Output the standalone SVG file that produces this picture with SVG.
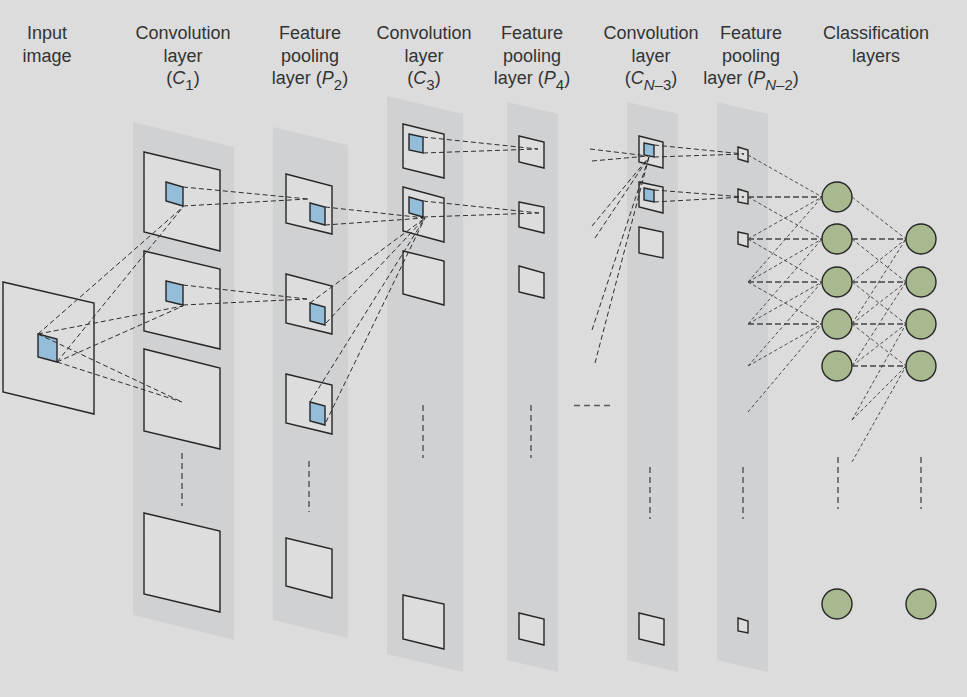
<svg xmlns="http://www.w3.org/2000/svg" width="967" height="697" viewBox="0 0 967 697">
<style>
.lbl{font-family:"Liberation Sans",Arial,Helvetica,sans-serif;font-size:18px;fill:#333333;text-anchor:middle}
.sub{font-size:15px}
.it{font-style:italic}
.band{fill:#d0d1d3}
.map{fill:#dddddd;stroke:#262626;stroke-width:1.4}
.patch{fill:#93bdd9;stroke:#262626;stroke-width:1.4}
.neuron{fill:#a9b98f;stroke:#262626;stroke-width:1.4}
.c{fill:none;stroke:#2e2e2e;stroke-width:1;stroke-dasharray:5 3}
.t{fill:none;stroke:#333333;stroke-width:0.85;stroke-dasharray:3.5 2.5}
.h{fill:none;stroke:#444444;stroke-width:1.4;stroke-dasharray:6 3}
.dots{fill:none;stroke:#5a5a5a;stroke-width:1.5;stroke-dasharray:6 4}
</style>
<rect x="0" y="0" width="967" height="697" fill="#dcdcdc"/>

<g id="bands">
<polygon class="band" points="133,122 234,147 234,640 133,615"/>
<polygon class="band" points="273,127 348,145 348,638 273,620"/>
<polygon class="band" points="387,96 463,114 463,672 387,654"/>
<polygon class="band" points="507,102 558,114 558,672 507,660"/>
<polygon class="band" points="627,102 678,114 678,672 627,660"/>
<polygon class="band" points="717,102 768,114 768,672 717,660"/>
</g>

<g id="labels">
<text class="lbl" x="47" y="39">Input</text>
<text class="lbl" x="47" y="62">image</text>
<text class="lbl" x="183" y="39">Convolution</text>
<text class="lbl" x="183" y="62">layer</text>
<text class="lbl" x="183" y="84">(<tspan class="it">C</tspan><tspan class="sub" dy="6">1</tspan><tspan dy="-6">)</tspan></text>
<text class="lbl" x="310" y="39">Feature</text>
<text class="lbl" x="310" y="62">pooling</text>
<text class="lbl" x="310" y="84">layer (<tspan class="it">P</tspan><tspan class="sub" dy="6">2</tspan><tspan dy="-6">)</tspan></text>
<text class="lbl" x="424" y="39">Convolution</text>
<text class="lbl" x="424" y="62">layer</text>
<text class="lbl" x="424" y="84">(<tspan class="it">C</tspan><tspan class="sub" dy="6">3</tspan><tspan dy="-6">)</tspan></text>
<text class="lbl" x="532" y="39">Feature</text>
<text class="lbl" x="532" y="62">pooling</text>
<text class="lbl" x="532" y="84">layer (<tspan class="it">P</tspan><tspan class="sub" dy="6">4</tspan><tspan dy="-6">)</tspan></text>
<text class="lbl" x="651" y="39">Convolution</text>
<text class="lbl" x="651" y="62">layer</text>
<text class="lbl" x="651" y="84">(<tspan class="it">C</tspan><tspan class="sub" dy="6"><tspan class="it">N</tspan>–3</tspan><tspan dy="-6">)</tspan></text>
<text class="lbl" x="751" y="39">Feature</text>
<text class="lbl" x="751" y="62">pooling</text>
<text class="lbl" x="751" y="84">layer (<tspan class="it">P</tspan><tspan class="sub" dy="6"><tspan class="it">N</tspan>–2</tspan><tspan dy="-6">)</tspan></text>
<text class="lbl" x="876" y="39">Classification</text>
<text class="lbl" x="876" y="62">layers</text>
</g>

<g id="input-image">
<polygon class="map" points="3,282 94,303 94,414 3,392"/>
<polygon class="patch" points="38,334 57,339 57,362 38,357"/>
</g>

<g id="c1-map1"><polygon class="map" points="144,152 220,170 220,251 144,232"/><polygon class="patch" points="166,182 183,187 183,206 166,201"/></g>
<g id="c1-map2"><polygon class="map" points="144,251 220,269 220,349 144,331"/><polygon class="patch" points="166,281 183,285 183,305 166,301"/></g>
<g id="c1-map3"><polygon class="map" points="144,349 220,368 220,449 144,431"/></g>
<g id="c1-map4"><polygon class="map" points="144,513 220,531 220,612 144,594"/></g>

<g id="p2-map1"><polygon class="map" points="286,174 332,186 332,234 286,223"/><polygon class="patch" points="310,203 325,207 325,225 310,221"/></g>
<g id="p2-map2"><polygon class="map" points="286,274 332,286 332,334 286,323"/><polygon class="patch" points="310,303 325,307 325,325 310,321"/></g>
<g id="p2-map3"><polygon class="map" points="286,374 332,385 332,434 286,423"/><polygon class="patch" points="310,402 325,406 325,425 310,421"/></g>
<g id="p2-map4"><polygon class="map" points="286,538 332,549 332,598 286,586"/></g>

<g id="c3-map1"><polygon class="map" points="403,124 444,134 444,178 403,168"/><polygon class="patch" points="409,134 423,137 423,153 409,150"/></g>
<g id="c3-map2"><polygon class="map" points="403,187 444,198 444,242 403,231"/><polygon class="patch" points="409,197 423,201 423,217 409,213"/></g>
<g id="c3-map3"><polygon class="map" points="403,251 444,261 444,305 403,294"/></g>
<g id="c3-map4"><polygon class="map" points="403,595 444,604 444,649 403,639"/></g>

<g id="p4-map1"><polygon class="map" points="519,136 544,142 544,168 519,162"/></g>
<g id="p4-map2"><polygon class="map" points="519,202 544,207 544,233 519,227"/></g>
<g id="p4-map3"><polygon class="map" points="519,266 544,273 544,298 519,292"/></g>
<g id="p4-map4"><polygon class="map" points="519,613 544,619 544,645 519,639"/></g>

<g id="cn3-map1"><polygon class="map" points="639,136 663,142 663,168 639,162"/><polygon class="patch" points="644,143 654,145 654,157 644,155"/></g>
<g id="cn3-map2"><polygon class="map" points="639,182 663,187 663,213 639,207"/><polygon class="patch" points="644,188 654,190 654,202 644,200"/></g>
<g id="cn3-map3"><polygon class="map" points="639,227 663,232 663,258 639,253"/></g>
<g id="cn3-map4"><polygon class="map" points="639,613 664,619 664,645 639,639"/></g>

<g id="pn2-map1"><polygon class="map" points="738,147 748,150 748,162 738,159"/></g>
<g id="pn2-map2"><polygon class="map" points="738,189 748,192 748,204 738,202"/></g>
<g id="pn2-map3"><polygon class="map" points="738,232 748,234 748,247 738,244"/></g>
<g id="pn2-map4"><polygon class="map" points="738,618 748,621 748,633 738,631"/></g>

<g id="fc1-n1"><circle class="neuron" cx="837" cy="197" r="15"/></g>
<g id="fc1-n2"><circle class="neuron" cx="837" cy="239" r="15"/></g>
<g id="fc1-n3"><circle class="neuron" cx="837" cy="282" r="15"/></g>
<g id="fc1-n4"><circle class="neuron" cx="837" cy="324" r="15"/></g>
<g id="fc1-n5"><circle class="neuron" cx="837" cy="366" r="15"/></g>
<g id="fc1-nlast"><circle class="neuron" cx="837" cy="604" r="15"/></g>
<g id="fc2-n1"><circle class="neuron" cx="921" cy="239" r="15"/></g>
<g id="fc2-n2"><circle class="neuron" cx="921" cy="282" r="15"/></g>
<g id="fc2-n3"><circle class="neuron" cx="921" cy="324" r="15"/></g>
<g id="fc2-n4"><circle class="neuron" cx="921" cy="366" r="15"/></g>
<g id="fc2-nlast"><circle class="neuron" cx="921" cy="604" r="15"/></g>

<g id="ellipses">
<line class="dots" x1="182" y1="453" x2="182" y2="506"/>
<line class="dots" x1="309" y1="461" x2="309" y2="512"/>
<line class="dots" x1="423" y1="405" x2="423" y2="458"/>
<line class="dots" x1="531" y1="405" x2="531" y2="458"/>
<line class="dots" x1="574" y1="405.5" x2="610" y2="405.5"/>
<line class="dots" x1="650" y1="467" x2="650" y2="519"/>
<line class="dots" x1="743" y1="467" x2="743" y2="519"/>
<line class="dots" x1="838" y1="457" x2="838" y2="509"/>
<line class="dots" x1="921" y1="457" x2="921" y2="509"/>
</g>

<g id="connectors">
<path class="c" d="M38,334 L183,207 M57,362 L183,207 M38,334 L183,306 M57,362 L183,306 M38,334 L182,402 M57,362 L182,402"/>
<path class="c" d="M183,187 L308,199 M183,206 L308,199 M183,285 L307,299 M183,305 L307,299"/>
<path class="c" d="M325,207 L425,218 M325,225 L425,218 M310,303 L425,218 M326,323 L425,218 M310,402 L425,218 M326,422 L425,218"/>
<path class="c" d="M423,137 L538,149 M423,153 L538,149 M423,201 L539,213 M423,217 L539,213"/>
<path class="c" d="M590,149 L648,156 M592,161 L648,156 M592,226 L649,157 M595,238 L649,157 M592,330 L649,157 M595,363 L649,157"/>
<path class="c" d="M654,145 L744,154 M654,157 L744,154 M654,190 L744,197 M654,202 L744,197"/>
<path class="t" d="M748,155 L822,197 M748,197 L822,239 M748,239 L822,197 M748,239 L822,282 M748,282 L822,197 M748,282 L822,239 M748,282 L822,324 M748,324 L822,239 M748,324 L822,282 M748,366 L822,282 M748,366 L822,324 M748,412 L822,324"/>
<path class="h" d="M748,197 L822,197 M748,239 L822,239 M748,282 L822,282 M748,324 L822,324"/>
<path class="t" d="M852,197 L906,239 M852,239 L906,282 M852,282 L906,239 M852,282 L906,324 M852,324 L906,239 M852,324 L906,282 M852,324 L906,366 M852,366 L906,282 M852,366 L906,324 M852,420 L906,324 M852,420 L906,366 M852,462 L906,366"/>
<path class="h" d="M852,239 L906,239 M852,282 L906,282 M852,324 L906,324 M852,366 L906,366"/>
</g>
</svg>
